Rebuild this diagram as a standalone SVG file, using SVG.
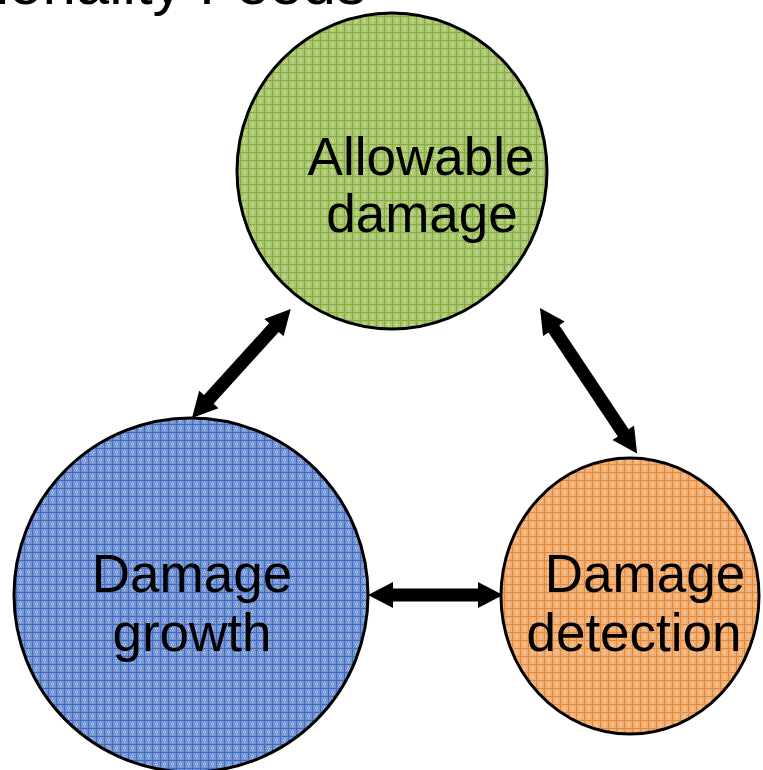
<svg xmlns="http://www.w3.org/2000/svg" width="763" height="770" viewBox="0 0 763 770">
<style>
.lbl{font-family:"Liberation Sans",Arial,sans-serif;font-size:53px;fill:#000;text-anchor:middle}
.ttl{font-family:"Liberation Sans",Arial,sans-serif;font-size:60px;fill:#000}
.node{stroke:#000;stroke-width:3}
.arr{fill:#000}
</style>
<defs>
<pattern id="pg" width="8" height="8" patternUnits="userSpaceOnUse">
<rect width="8" height="8" fill="#a8c76c"/>
<rect x="0" y="0" width="8" height="1" fill="#86ab45"/>
<rect x="0" y="0" width="1" height="8" fill="#86ab45"/>
<rect x="3" y="4" width="1" height="1" fill="#e4f0d0"/>
<rect x="5" y="4" width="1" height="1" fill="#e4f0d0"/>
<rect x="4" y="2" width="1" height="1" fill="#e4f0d0"/>
<rect x="4" y="6" width="1" height="1" fill="#e4f0d0"/>
</pattern>
<pattern id="pb" width="8" height="8" patternUnits="userSpaceOnUse">
<rect width="8" height="8" fill="#7595d3"/>
<rect x="0" y="0" width="8" height="1" fill="#4169c4"/>
<rect x="0" y="0" width="1" height="8" fill="#4169c4"/>
<rect x="3" y="4" width="1" height="1" fill="#d6e0f4"/>
<rect x="5" y="4" width="1" height="1" fill="#d6e0f4"/>
<rect x="4" y="2" width="1" height="1" fill="#d6e0f4"/>
<rect x="4" y="6" width="1" height="1" fill="#d6e0f4"/>
</pattern>
<pattern id="po" width="8" height="8" patternUnits="userSpaceOnUse">
<rect width="8" height="8" fill="#f1ad72"/>
<rect x="0" y="0" width="8" height="1" fill="#e08a3c"/>
<rect x="0" y="0" width="1" height="8" fill="#e08a3c"/>
<rect x="3" y="4" width="1" height="1" fill="#fbe2cb"/>
<rect x="5" y="4" width="1" height="1" fill="#fbe2cb"/>
<rect x="4" y="2" width="1" height="1" fill="#fbe2cb"/>
<rect x="4" y="6" width="1" height="1" fill="#fbe2cb"/>
</pattern>
</defs>
<text class="ttl" x="366" y="4" text-anchor="end">Functionality Feeds</text>
<g id="connectors">
<polygon class="arr" transform="translate(368,595)" points="0,0 25,-13 25,-6.5 110,-6.5 110,-13 135,0 110,13 110,6.5 25,6.5 25,13"/>
<polygon class="arr" transform="translate(192,418) rotate(-47.8)" points="0,0 25,-13 25,-6.5 122,-6.5 122,-13 147,0 122,13 122,6.5 25,6.5 25,13"/>
<polygon class="arr" transform="translate(540,308) rotate(56.3)" points="0,0 25,-13 25,-6.5 150,-6.5 150,-13 175,0 150,13 150,6.5 25,6.5 25,13"/>
</g>
<g id="node-allowable">
<ellipse class="node" cx="392" cy="171" rx="155" ry="158" fill="url(#pg)"/>
<text class="lbl" x="421" y="175">Allowable</text>
<text class="lbl" x="422" y="232">damage</text>
</g>
<g id="node-growth">
<ellipse class="node" cx="191" cy="595" rx="177" ry="177" fill="url(#pb)"/>
<text class="lbl" x="192" y="592">Damage</text>
<text class="lbl" x="192" y="651">growth</text>
</g>
<g id="node-detection">
<ellipse class="node" cx="630" cy="596" rx="129" ry="138" fill="url(#po)"/>
<text class="lbl" x="645" y="592">Damage</text>
<text class="lbl" x="634" y="651">detection</text>
</g>
</svg>
